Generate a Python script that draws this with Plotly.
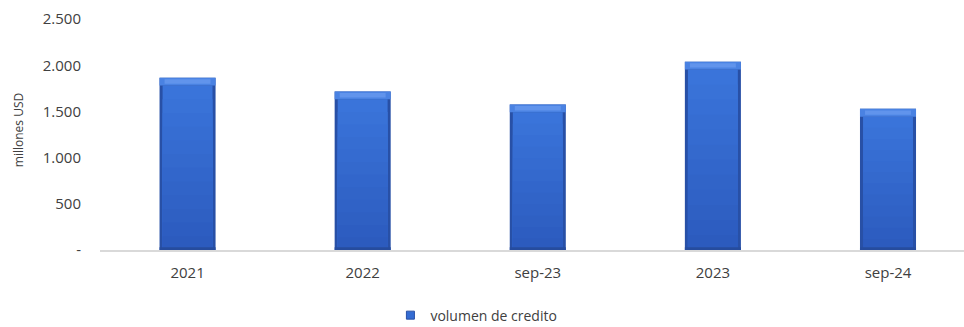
import plotly.graph_objects as go

# Credit volume by period (millions of USD)
periods = ["2021", "2022", "sep-23", "2023", "sep-24"]
volumen = [1866, 1717, 1576, 2040, 1529]

y_tick_vals = [0, 500, 1000, 1500, 2000, 2500]
y_tick_text = ["-", "500", "1.000", "1.500", "2.000", "2.500"]

FONT = "Open Sans"
BAR_W = 0.32
INNER_W = 0.285
BEVEL = 85      # depth of the lighter top band, in data units
N_STEPS = 12    # bands used for the vertical shading of each bar


def mix(c1, c2, t):
    a = [int(c1[i:i + 2], 16) for i in (1, 3, 5)]
    b = [int(c2[i:i + 2], 16) for i in (1, 3, 5)]
    return "#" + "".join(f"{round(x + (y - x) * t):02x}" for x, y in zip(a, b))


fig = go.Figure()

# dark outer body (gives the shaded side edges)
fig.add_trace(go.Bar(
    x=periods, y=volumen, width=BAR_W,
    marker=dict(color="#2850A6", line=dict(width=0)),
    showlegend=False, hoverinfo="skip",
))
# face: vertical shading from lighter top to darker bottom
face_top, face_bottom = "#3A74DA", "#2C5BBE"
for k in range(N_STEPS):
    frac = 1 - k / N_STEPS
    fig.add_trace(go.Bar(
        x=periods, y=[(v - BEVEL) * frac for v in volumen], width=INNER_W,
        marker=dict(color=mix(face_top, face_bottom, k / (N_STEPS - 1)), line=dict(width=0)),
        showlegend=False, hoverinfo="skip",
    ))
# thin dark foot of each bar
fig.add_trace(go.Bar(
    x=periods, y=[30] * len(volumen), width=BAR_W,
    marker=dict(color="#264C9E", line=dict(width=0)),
    showlegend=False, hoverinfo="skip",
))
# light bevel on top
fig.add_trace(go.Bar(
    x=periods, y=[BEVEL] * len(volumen), base=[v - BEVEL for v in volumen],
    width=BAR_W,
    marker=dict(color="#4A82E2", line=dict(width=0)),
    showlegend=False, hoverinfo="skip",
))
fig.add_trace(go.Bar(
    x=periods, y=[BEVEL * 0.55] * len(volumen), base=[v - BEVEL * 0.75 for v in volumen],
    width=BAR_W * 0.82,
    marker=dict(color="#6194EC", line=dict(width=0)),
    showlegend=False, hoverinfo="skip",
))
# legend entry
fig.add_trace(go.Scatter(
    x=[None], y=[None], mode="markers", name="volumen de credito",
    marker=dict(symbol="square", size=8, color="#346CD3", line=dict(color="#2850A6", width=1)),
    showlegend=True, hoverinfo="skip",
))

fig.update_layout(
    width=964, height=327,
    margin=dict(l=100, r=0, t=10, b=77),
    paper_bgcolor="white", plot_bgcolor="white",
    barmode="overlay",
    font=dict(family=FONT, color="#404040", size=14),
    legend=dict(
        orientation="h",
        xref="container", yref="container",
        x=0.405, y=0.035, xanchor="left", yanchor="middle",
        font=dict(size=14, color="#404040", family=FONT),
        itemwidth=30,
    ),
    xaxis=dict(
        range=[-0.5, 4.434],
        showgrid=False, zeroline=False,
        showline=True, linecolor="#D9D9D9", linewidth=2,
        ticks="", tickfont=dict(size=15, color="#404040"),
        ticklabelstandoff=8,
        fixedrange=True,
    ),
    yaxis=dict(
        range=[0, 2600],
        tickvals=y_tick_vals, ticktext=y_tick_text,
        showgrid=False, zeroline=False, showline=False,
        ticks="", tickfont=dict(size=15, color="#404040"),
        ticklabelstandoff=18,
        title=dict(text="millones USD", font=dict(size=12, color="#404040"), standoff=16),
    ),
)

fig.write_html("out.html")
